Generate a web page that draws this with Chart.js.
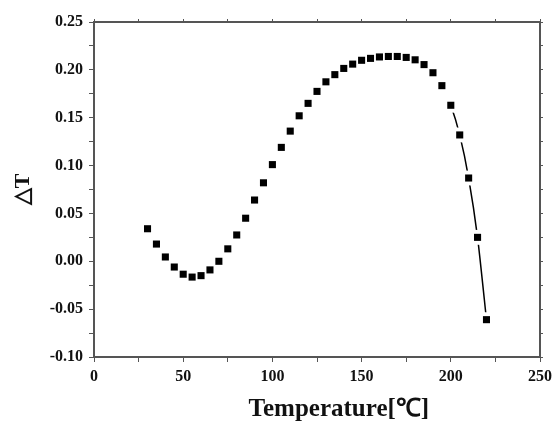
<!DOCTYPE html>
<html>
<head>
<meta charset="utf-8">
<script src="https://cdn.jsdelivr.net/npm/chart.js@4/dist/chart.umd.min.js"></script>
<style>
  html, body { margin: 0; padding: 0; background: #fff; }
  #wrap { width: 554px; height: 429px; }
</style>
</head>
<body>
<div id="wrap"><canvas id="chart" width="554" height="429"></canvas></div>
<script>
// data
const temps = [30, 35, 40, 45, 50, 55, 60, 65, 70, 75, 80, 85, 90, 95, 100, 105, 110, 115, 120, 125,
  130, 135, 140, 145, 150, 155, 160, 165, 170, 175, 180, 185, 190, 195, 200, 205, 210, 215, 220];
const deltaT = [0.034, 0.018, 0.0045, -0.006, -0.0135, -0.0165, -0.015, -0.009, 0.0, 0.013,
  0.0275, 0.045, 0.064, 0.082, 0.101, 0.119, 0.136, 0.152, 0.165, 0.1775,
  0.1875, 0.195, 0.2015, 0.206, 0.21, 0.212, 0.2135, 0.214, 0.214, 0.213,
  0.2105, 0.2055, 0.197, 0.1835, 0.163, 0.132, 0.087, 0.025, -0.061];
const xLabels = [0, 50, 100, 150, 200, 250];
const yLabels = [-0.10, -0.05, 0.00, 0.05, 0.10, 0.15, 0.20, 0.25];

const points = temps.map((t, i) => ({ x: t, y: deltaT[i] }));

const serif = "'Liberation Serif', 'Times New Roman', serif";
const axisColor = "#555";
const tickFont = { family: serif, size: 16, weight: "bold" };

function isLabel(v, list) {
  return list.some(l => Math.abs(l - v) < 1e-6);
}

// hidden-label scale used for the top / right frame
function frameScale(pos, axis, min, max, step, size) {
  return {
    type: "linear", position: pos, axis, min, max,
    ticks: { display: false, stepSize: step },
    grid: { display: true, drawOnChartArea: false, tickLength: 3, color: axisColor, tickColor: axisColor },
    border: { display: true, color: axisColor, width: 2 },
    afterFit: s => { if (axis === "x") s.height = size; else s.width = size; }
  };
}

new Chart(document.getElementById("chart"), {
  type: "scatter",
  data: {
    datasets: [
      {
        // the markers
        data: points,
        showLine: false,
        pointStyle: "rect",
        pointRadius: 5,
        pointHoverRadius: 5,
        backgroundColor: "#000",
        borderColor: "#000",
        pointBorderWidth: 0
      },
      {
        // white halo so the line stops short of each marker
        data: points,
        showLine: false,
        pointStyle: "rect",
        pointRadius: 10.5,
        pointHoverRadius: 10.5,
        backgroundColor: "#fff",
        borderColor: "#fff",
        pointBorderWidth: 0
      },
      {
        data: points,
        showLine: true,
        pointRadius: 0,
        borderColor: "#000",
        borderWidth: 1.5,
        tension: 0.2,
        segment: {
          borderColor: ctx => {
            const dx = ctx.p1.x - ctx.p0.x, dy = ctx.p1.y - ctx.p0.y;
            return Math.sqrt(dx * dx + dy * dy) < 25 ? "rgba(0,0,0,0)" : "#000";
          }
        }
      }
    ]
  },
  options: {
    responsive: false,
    animation: false,
    layout: { padding: 0 },
    plugins: { legend: { display: false }, tooltip: { enabled: false } },
    scales: {
      x: {
        type: "linear", position: "bottom", min: 0, max: 250,
        ticks: {
          stepSize: 25, padding: 5, color: "#111", font: tickFont, maxRotation: 0,
          autoSkip: false,
          callback: v => isLabel(v, xLabels) ? String(v) : ""
        },
        grid: { display: true, drawOnChartArea: false, tickLength: 5, color: axisColor, tickColor: axisColor },
        border: { display: true, color: axisColor, width: 2 },
        title: {
          display: true, text: "       Temperature[℃]", color: "#111",
          font: { family: serif, size: 25, weight: "bold" },
          padding: { top: 0, bottom: 4 }
        },
        afterFit: s => { s.height = 72; s.paddingLeft = 0; s.paddingRight = 0; }
      },
      y: {
        type: "linear", position: "left", min: -0.10, max: 0.25,
        ticks: {
          stepSize: 0.025, padding: 6, color: "#111", font: tickFont, autoSkip: false,
          callback: v => isLabel(v, yLabels) ? (Math.abs(v) < 1e-9 ? 0 : v).toFixed(2) : ""
        },
        grid: { display: true, drawOnChartArea: false, tickLength: 5, color: axisColor, tickColor: axisColor },
        border: { display: true, color: axisColor, width: 2 },
        title: {
          display: true, text: "△T", color: "#111",
          font: { family: serif, size: 22, weight: "bold" },
          padding: { top: 10, bottom: 0 }
        },
        afterFit: s => { s.width = 94; s.paddingTop = 0; s.paddingBottom = 0; }
      },
      xTop: frameScale("top", "x", 0, 250, 25, 22),
      yRight: frameScale("right", "y", -0.10, 0.25, 0.025, 14)
    }
  }
});
</script>
</body>
</html>
